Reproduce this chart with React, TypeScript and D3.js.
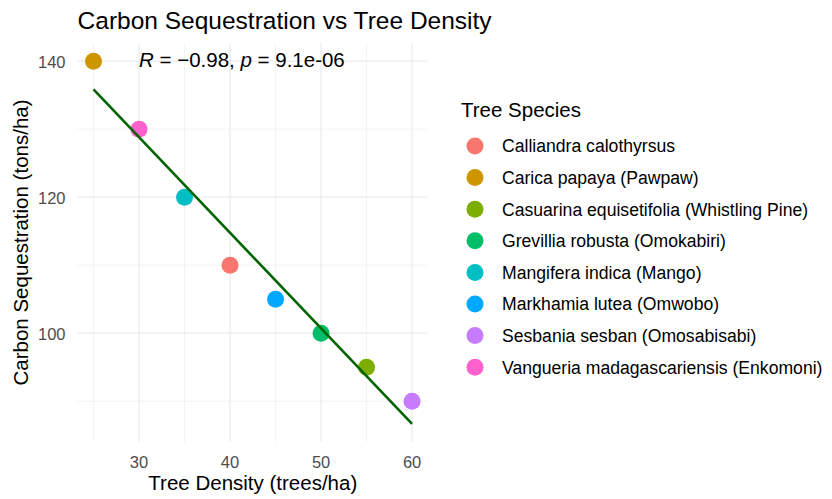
import React from "react";
import * as d3 from "d3";

const species = [
  "Calliandra calothyrsus",
  "Carica papaya (Pawpaw)",
  "Casuarina equisetifolia (Whistling Pine)",
  "Grevillia robusta (Omokabiri)",
  "Mangifera indica (Mango)",
  "Markhamia lutea (Omwobo)",
  "Sesbania sesban (Omosabisabi)",
  "Vangueria madagascariensis (Enkomoni)",
];
const speciesColors = ["#F8766D", "#CD9600", "#7CAE00", "#00BE67", "#00BFC4", "#00A9FF", "#C77CFF", "#FF61CC"];
const density = [40, 25, 55, 50, 35, 45, 60, 30];
const carbon = [110, 140, 95, 100, 120, 105, 90, 130];
const xTicks = [30, 40, 50, 60];
const xMinor = [25, 35, 45, 55];
const yTicks = [100, 120, 140];
const yMinor = [90, 110, 130];

const W = 832, H = 499;
const FONT = "'Liberation Sans', Arial, sans-serif";

export default function App() {
  const mx = d3.mean(density)!, my = d3.mean(carbon)!;
  let sxy = 0, sxx = 0;
  density.forEach((x, i) => { sxy += (x - mx) * (carbon[i] - my); sxx += (x - mx) ** 2; });
  const slope = sxy / sxx;
  const icpt = my - slope * mx;
  const [x0, x1] = d3.extent(density) as [number, number];
  const fit = [x0, x1].map((x) => [x, icpt + slope * x]);
  const yAll = [...carbon, ...fit.map((d) => d[1])];
  const [ya, yb] = d3.extent(yAll) as [number, number];
  const xpad = (x1 - x0) * 0.05, ypad = (yb - ya) * 0.05;

  const left = 77.6, right = 428, top = 43, bottom = 442;
  const x = d3.scaleLinear().domain([x0 - xpad, x1 + xpad]).range([left, right]);
  const y = d3.scaleLinear().domain([ya - ypad, yb + ypad]).range([bottom, top]);
  const line = d3.line<number[]>().x((d) => x(d[0])).y((d) => y(d[1]));

  return (
    <svg width={W} height={H} style={{ position: "absolute", left: 0, top: 0, background: "#fff" }} fontFamily={FONT}>
      <text x={left} y={28.5} fontSize={24.5} fill="#000">Carbon Sequestration vs Tree Density</text>
      {xMinor.map((t) => <line key={"xm" + t} x1={x(t)} x2={x(t)} y1={top} y2={bottom} stroke="#ebebeb" strokeWidth={0.6} />)}
      {yMinor.map((t) => <line key={"ym" + t} y1={y(t)} y2={y(t)} x1={left} x2={right} stroke="#ebebeb" strokeWidth={0.6} />)}
      {xTicks.map((t) => <line key={"x" + t} x1={x(t)} x2={x(t)} y1={top} y2={bottom} stroke="#ebebeb" strokeWidth={1.2} />)}
      {yTicks.map((t) => <line key={"y" + t} y1={y(t)} y2={y(t)} x1={left} x2={right} stroke="#ebebeb" strokeWidth={1.2} />)}
      {xTicks.map((t) => <text key={"xl" + t} x={x(t)} y={468} textAnchor="middle" fontSize={16.5} fill="#4d4d4d">{t}</text>)}
      {yTicks.map((t) => <text key={"yl" + t} x={65.5} y={y(t) + 6.5} textAnchor="end" fontSize={16.5} fill="#4d4d4d">{t}</text>)}
      <text x={(left + right) / 2} y={490} textAnchor="middle" fontSize={20.5} fill="#000">Tree Density (trees/ha)</text>
      <text transform={`translate(28,${(top + bottom) / 2}) rotate(-90)`} textAnchor="middle" fontSize={20.5} fill="#000">Carbon Sequestration (tons/ha)</text>
      {density.map((d, i) => <circle key={"p" + i} cx={x(d)} cy={y(carbon[i])} r={8.5} fill={speciesColors[i]} />)}
      <path d={line(fit)!} stroke="#006400" strokeWidth={2.6} fill="none" />
      <text x={x(30)} y={67} fontSize={20.5} fill="#000">
        <tspan fontStyle="italic">R</tspan> = −0.98, <tspan fontStyle="italic">p</tspan> = 9.1e-06
      </text>
      <text x={461} y={117} fontSize={20.5} fill="#000">Tree Species</text>
      {species.map((s, i) => (
        <g key={s} transform={`translate(0,${146 + i * 31.6})`}>
          <circle cx={475} cy={0} r={8.5} fill={speciesColors[i]} />
          <text x={502} y={6.3} fontSize={17.6} fill="#000">{s}</text>
        </g>
      ))}
    </svg>
  );
}
